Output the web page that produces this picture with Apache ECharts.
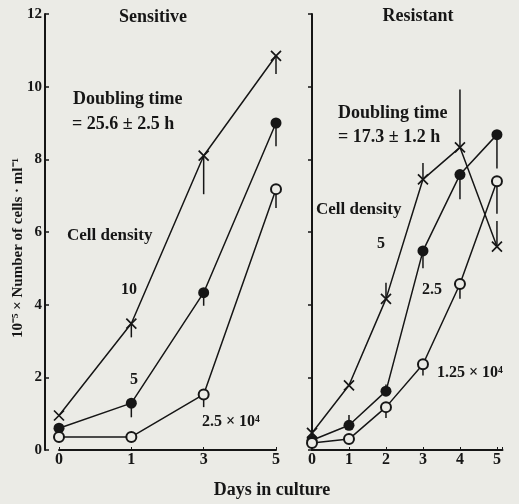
<!DOCTYPE html>
<html><head><meta charset="utf-8">
<script src="https://cdn.jsdelivr.net/npm/echarts@6/dist/echarts.min.js"></script>
<style>html,body{margin:0;padding:0;background:#ebebe6;}#c{width:519px;height:504px;}</style>
</head><body><div id="c"></div>
<script>
// ---- data ----
const sensDays = ['0', '1', '3', '5'];
const sensCross = [0.95, 3.48, 8.1, 10.85];      // cell density 10
const sensFilled = [0.6, 1.29, 4.33, 9.0];       // cell density 5
const sensOpen = [0.36, 0.36, 1.53, 7.18];       // cell density 2.5 x 10^4
const sensCrossErr = [null, 3.1, 7.04, 10.35];
const sensFilledErr = [null, 0.9, 3.97, 8.36];
const sensOpenErr = [null, null, 1.18, 6.66];

const resDays = [0, 1, 2, 3, 4, 5];
const resCross = [0.47, 1.78, 4.16, 7.45, 8.33, 5.6];   // cell density 5
const resFilled = [0.27, 0.68, 1.62, 5.48, 7.58, 8.68]; // cell density 2.5
const resOpen = [0.19, 0.3, 1.18, 2.36, 4.57, 7.4];     // cell density 1.25 x 10^4
const resCrossErr = [null, null, 4.6, 7.9, 9.92, 6.3];
const resFilledErr = [null, 0.96, 1.8, 5.0, 6.9, 7.75];
const resOpenErr = [null, null, 0.88, 2.05, 4.16, 6.5];

// ---- style ----
const INK = '#161616';
const BG = '#ebebe6';
const FONT = 'Liberation Serif';
const crossSym = 'path://M0,0L10,10M10,0L0,10';

function lineSeries(xIdx, xs, ys, kind) {
  const s = {
    type: 'line', xAxisIndex: xIdx, yAxisIndex: xIdx,
    data: ys.map((v, i) => [xs[i], v]),
    lineStyle: { color: INK, width: 1.5 },
    symbolSize: 10, z: 5, animation: false
  };
  if (kind === 'cross') {
    s.symbol = crossSym; s.symbolSize = 10;
    s.itemStyle = { color: INK, borderColor: INK, borderWidth: 1.7 };
  } else if (kind === 'filled') {
    s.symbol = 'circle'; s.symbolSize = 11;
    s.itemStyle = { color: INK, borderColor: INK, borderWidth: 0 };
  } else {
    s.symbol = 'circle'; s.symbolSize = 10;
    s.itemStyle = { color: BG, borderColor: INK, borderWidth: 2 };
  }
  return s;
}

function errSeries(xIdx, xs, ys, errs) {
  const d = [];
  ys.forEach((v, i) => { if (errs[i] !== null) d.push([xs[i], v, errs[i]]); });
  return {
    type: 'custom', xAxisIndex: xIdx, yAxisIndex: xIdx, z: 3, animation: false,
    data: d,
    renderItem: function (params, api) {
      const p1 = api.coord([api.value(0), api.value(1)]);
      const p2 = api.coord([api.value(0), api.value(2)]);
      return { type: 'line', shape: { x1: p1[0], y1: p1[1], x2: p2[0], y2: p2[1] },
               style: { stroke: INK, lineWidth: 1.5 } };
    }
  };
}

const sIdx = sensDays.map((d, i) => i);

function txt(x, y, t, size, opts) {
  return { type: 'text', x: x, y: y, z: 20,
    style: { text: t, fill: INK, font: ((opts && opts.w) || 'normal') + ' ' + size + 'px "' + FONT + '"',
      textVerticalAlign: 'middle', textAlign: (opts && opts.a) || 'left' } };
}

const axisLabelStyle = { color: INK, fontFamily: FONT, fontWeight: 'bold', fontSize: 16 };

const option = {
  backgroundColor: BG,
  animation: false,
  grid: [
    { left: 59, top: 14, width: 217, height: 436 },
    { left: 312, top: 14, width: 190.5, height: 436 }
  ],
  xAxis: [
    { gridIndex: 0, type: 'category', data: sensDays, boundaryGap: false,
      axisLine: { lineStyle: { color: INK, width: 2 } },
      axisTick: { show: true, inside: true, length: 3, lineStyle: { color: INK } },
      axisLabel: Object.assign({ margin: 2 }, axisLabelStyle), splitLine: { show: false } },
    { gridIndex: 1, type: 'value', min: 0, max: 5.15, interval: 1,
      axisLine: { lineStyle: { color: INK, width: 2 } },
      axisTick: { show: true, inside: true, length: 3, lineStyle: { color: INK } },
      axisLabel: Object.assign({ margin: 2, formatter: v => (Number.isInteger(v) ? String(v) : '') }, axisLabelStyle),
      splitLine: { show: false } }
  ],
  yAxis: [
    { gridIndex: 0, type: 'value', min: 0, max: 12, interval: 2, offset: 14,
      axisLine: { show: true, lineStyle: { color: INK, width: 2 } },
      axisTick: { show: true, inside: true, length: 4, lineStyle: { color: INK, width: 1.5 } },
      axisLabel: { color: INK, fontFamily: FONT, fontWeight: 'bold', fontSize: 15, margin: 3 },
      splitLine: { show: false } },
    { gridIndex: 1, type: 'value', min: 0, max: 12, interval: 2, position: 'right', offset: 13.5,
      axisLine: { show: true, lineStyle: { color: INK, width: 2 } },
      axisTick: { show: true, inside: true, length: 4, lineStyle: { color: INK, width: 1.5 } },
      axisLabel: { show: false }, splitLine: { show: false } }
  ],
  series: [
    errSeries(0, sIdx, sensCross, sensCrossErr),
    errSeries(0, sIdx, sensFilled, sensFilledErr),
    errSeries(0, sIdx, sensOpen, sensOpenErr),
    lineSeries(0, sIdx, sensCross, 'cross'),
    lineSeries(0, sIdx, sensFilled, 'filled'),
    lineSeries(0, sIdx, sensOpen, 'open'),
    errSeries(1, resDays, resCross, resCrossErr),
    errSeries(1, resDays, resFilled, resFilledErr),
    errSeries(1, resDays, resOpen, resOpenErr),
    lineSeries(1, resDays, resCross, 'cross'),
    lineSeries(1, resDays, resFilled, 'filled'),
    lineSeries(1, resDays, resOpen, 'open')
  ],
  graphic: [
    txt(153, 17, 'Sensitive', 18, { w: 'bold', a: 'center' }),
    txt(418, 16, 'Resistant', 18, { w: 'bold', a: 'center' }),
    txt(73, 99, 'Doubling time', 18, { w: 'bold' }),
    txt(72, 124, '= 25.6 ± 2.5 h', 18, { w: 'bold' }),
    txt(338, 113, 'Doubling time', 18, { w: 'bold' }),
    txt(338, 137, '= 17.3 ± 1.2 h', 18, { w: 'bold' }),
    txt(67, 236, 'Cell density', 17, { w: 'bold' }),
    txt(316, 210, 'Cell density', 17, { w: 'bold' }),
    txt(121, 290, '10', 16, { w: 'bold' }),
    txt(130, 380, '5', 16, { w: 'bold' }),
    txt(202, 422, '2.5 × 10⁴', 16, { w: 'bold' }),
    txt(377, 244, '5', 16, { w: 'bold' }),
    txt(422, 290, '2.5', 16, { w: 'bold' }),
    txt(437, 373, '1.25 × 10⁴', 16, { w: 'bold' }),
    txt(272, 490, 'Days in culture', 18, { w: 'bold', a: 'center' }),
    { type: 'text', x: 18, y: 248, rotation: Math.PI / 2, z: 20,
      style: { text: '10⁻⁵ × Number of cells · ml⁻¹', fill: INK, font: 'bold 15px "' + FONT + '"',
               textAlign: 'center', textVerticalAlign: 'middle' } }
  ]
};

const chart = echarts.init(document.getElementById('c'), null, { renderer: 'canvas' });
chart.setOption(option);
</script>
</body></html>
